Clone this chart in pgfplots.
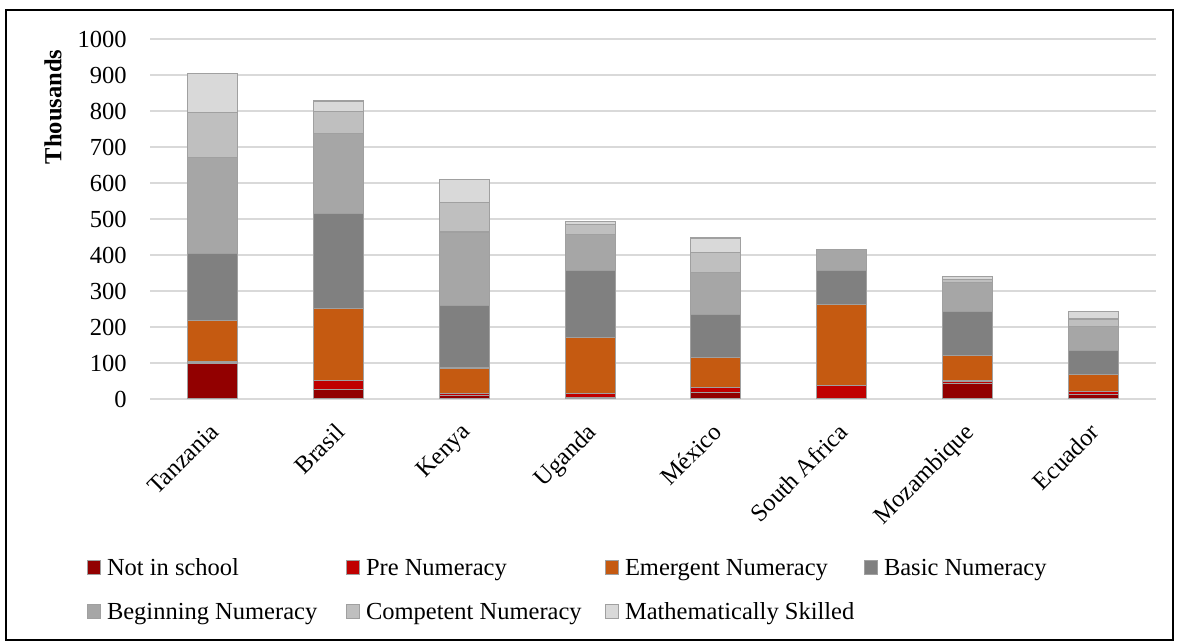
\documentclass[border=0pt]{standalone}
\usepackage{fontspec}
\setmainfont{Liberation Serif}
\usepackage{pgfplots}
\usepackage{pgfplotstable}
\pgfplotsset{compat=1.18}

\definecolor{notschool}{RGB}{146,0,0}
\definecolor{prenum}{RGB}{192,0,0}
\definecolor{emergent}{RGB}{197,90,17}
\definecolor{basic}{RGB}{128,128,128}
\definecolor{beginning}{RGB}{166,166,166}
\definecolor{competent}{RGB}{191,191,191}
\definecolor{skilled}{RGB}{217,217,217}
\definecolor{barline}{RGB}{160,160,160}
\definecolor{gridline}{RGB}{217,217,217}

% Children by numeracy level, in thousands
% 0 Tanzania, 1 Brasil, 2 Kenya, 3 Uganda, 4 Mexico, 5 South Africa, 6 Mozambique, 7 Ecuador
\pgfplotstableread{
x notschool pre emergent basic beginning competent skilled
0 100  4 114 186 266 125 109
1  27 24 200 264 222  62  29
2   9  6  71 174 204  82  63
3   3 13 155 186 101  26   8
4  19 12  85 119 117  55  40
5   0 37 225  95  58   0   0
6  42  8  71 123  79  10   8
7  12  9  47  66  68  20  22
}\numeracy

\begin{document}
\fontsize{12.25pt}{15pt}\selectfont
\begin{tikzpicture}
\useasboundingbox (-75pt,-121pt) rectangle (514pt,199.5pt);
\begin{axis}[
  at={(0,0)}, anchor=south west,
  scale only axis, width=503pt, height=180pt,
  ybar stacked, bar width=25pt,
  xmin=-0.5, xmax=7.5, ymin=0, ymax=1000,
  enlarge x limits=false,
  xtick={0,...,7},
  xticklabels={Tanzania,Brasil,Kenya,Uganda,México,South Africa,Mozambique,Ecuador},
  ytick={0,100,...,1000},
  /pgf/number format/assume math mode=true,
  /pgf/number format/1000 sep={},
  axis line style={draw=none},
  major tick length=0pt,
  ymajorgrids,
  grid style={line width=0.8pt, gridline},
  yticklabel style={anchor=east, inner sep=0pt, xshift=-11.5pt},
  xticklabel style={inner sep=0pt, xshift=-2.3pt, yshift=-11.2pt, rotate=45, anchor=north east},
  every axis plot/.append style={draw=barline, line width=0.6pt},
  legend columns=4,
  legend cell align=left,
  legend image code/.code={\draw[#1, line width=0.5pt] (0pt,0.3pt) rectangle (6.5pt,7.3pt);},
  legend style={at={(-0.0626,-0.4389)}, anchor=north west, draw=none,
    inner sep=0pt, outer sep=0pt, row sep=10.25pt,
    cells={anchor=base west},
    nodes={inner sep=0pt, text height=9pt, text depth=3pt},
    /tikz/every odd column/.append style={column sep=3pt},
    /tikz/every even column/.append style={column sep=9.5pt}},
]
\addplot[fill=notschool] table[x=x, y=notschool] {\numeracy};
\addlegendentry{\makebox[110pt][l]{Not in school}}
\addplot[fill=prenum] table[x=x, y=pre] {\numeracy};
\addlegendentry{\makebox[110pt][l]{Pre Numeracy}}
\addplot[fill=emergent] table[x=x, y=emergent] {\numeracy};
\addlegendentry{\makebox[110pt][l]{Emergent Numeracy}}
\addplot[fill=basic] table[x=x, y=basic] {\numeracy};
\addlegendentry{\makebox[110pt][l]{Basic Numeracy}}
\addplot[fill=beginning] table[x=x, y=beginning] {\numeracy};
\addlegendentry{\makebox[110pt][l]{Beginning Numeracy}}
\addplot[fill=competent] table[x=x, y=competent] {\numeracy};
\addlegendentry{\makebox[110pt][l]{Competent Numeracy}}
\addplot[fill=skilled] table[x=x, y=skilled] {\numeracy};
\addlegendentry{\makebox[110pt][l]{Mathematically Skilled}}
\end{axis}
\node[rotate=90, font=\bfseries, inner sep=0pt] at (-48.5pt,146pt) {Thousands};
\draw[line width=0.6pt] (-72pt,-120.5pt) rectangle (511.5pt,194.5pt);
\end{tikzpicture}
\end{document}
